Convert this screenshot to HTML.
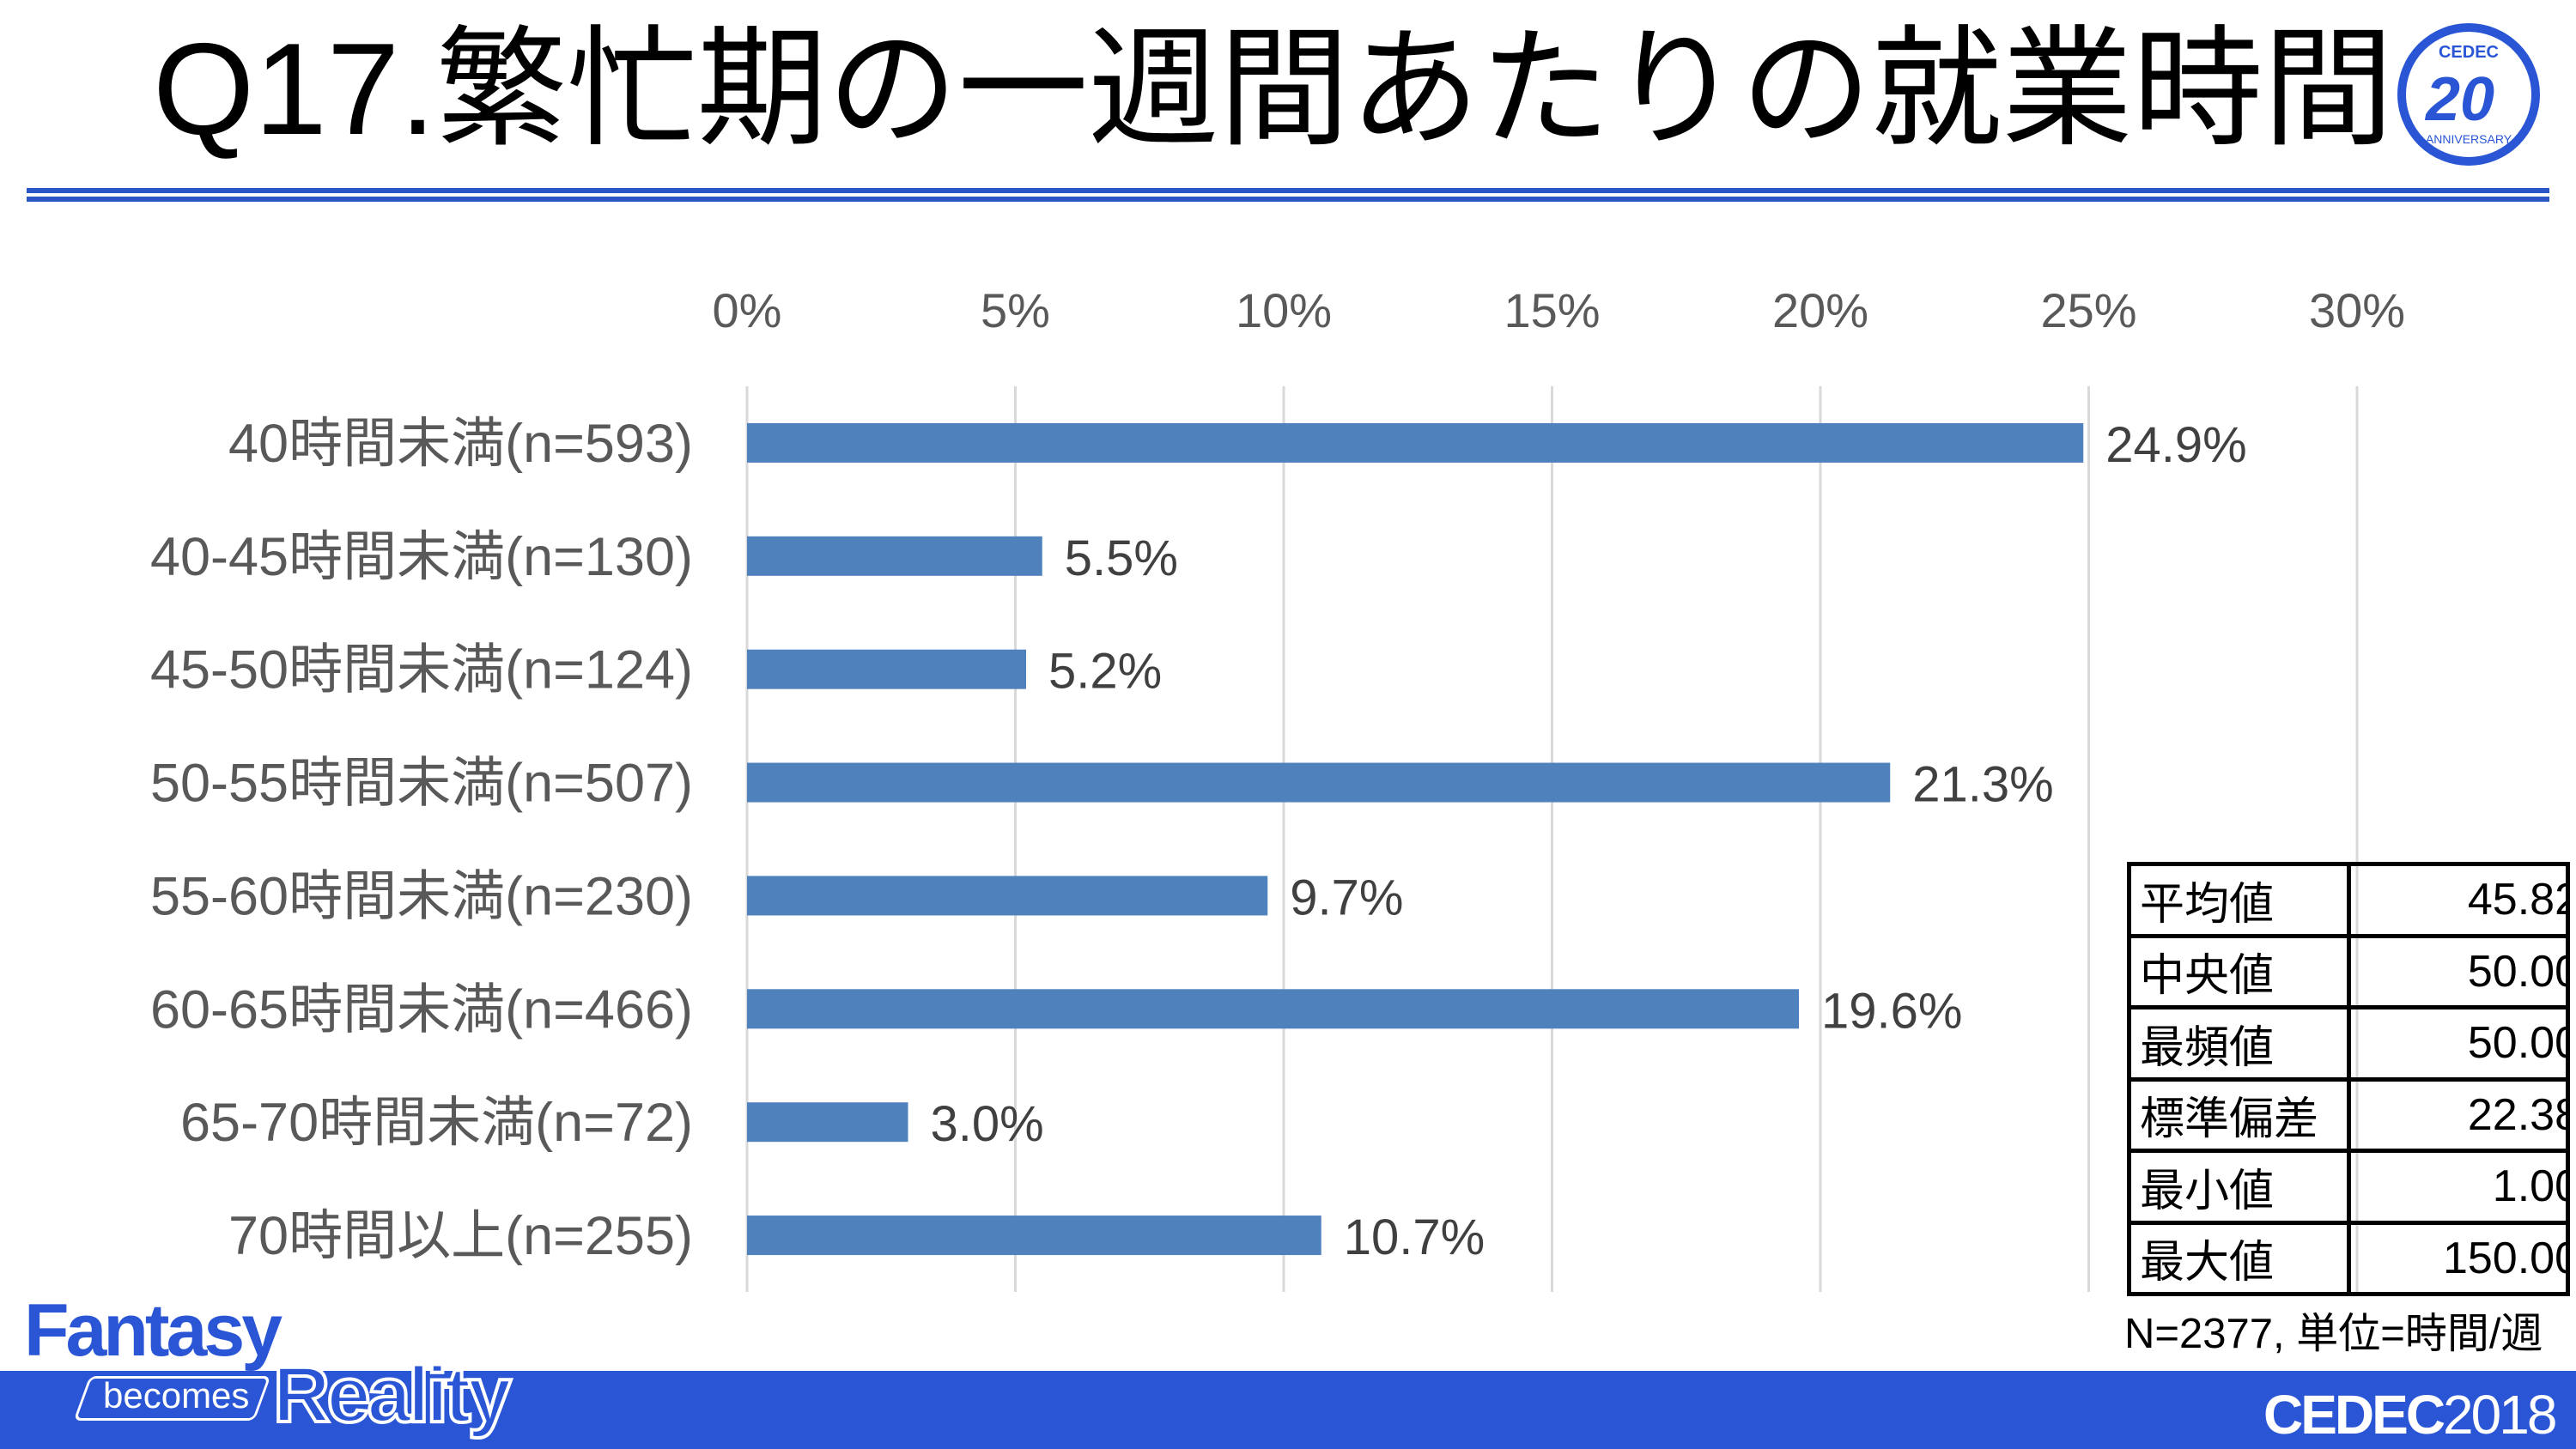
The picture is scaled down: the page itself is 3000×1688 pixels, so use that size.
<!DOCTYPE html>
<html><head><meta charset="utf-8">
<style>
html,body{margin:0;padding:0;background:#fff;}
body{width:3000px;height:1688px;position:relative;overflow:hidden;font-family:"Liberation Sans","Noto Sans CJK JP",sans-serif;}
.abs{position:absolute;}
td.k{border:5px solid #000;padding:0 10px;}
td.v{border:5px solid #000;padding:0;}
td.v div{overflow:hidden;text-align:right;white-space:nowrap;}
td.v span{display:inline-block;margin-right:-16px;}
</style></head>
<body>
<div class="abs" style="left:178px;top:14px;font-size:152px;line-height:180px;color:#000;white-space:nowrap;letter-spacing:0px;">Q17.繁忙期の一週間あたりの就業時間</div>
<svg class="abs" style="left:2785px;top:22px" width="180" height="175" viewBox="0 0 180 175">
<circle cx="90" cy="88" r="78" fill="none" stroke="#2a56d6" stroke-width="10"/>
<text x="90" y="45" text-anchor="middle" font-size="20" font-weight="bold" fill="#2a56d6" font-family="Liberation Sans">CEDEC</text>
<text x="80" y="118" text-anchor="middle" font-size="72" font-weight="bold" fill="#2a56d6" font-family="Liberation Sans" font-style="italic">20</text>
<text x="90" y="145" text-anchor="middle" font-size="14" fill="#2a56d6" font-family="Liberation Sans">ANNIVERSARY</text>
</svg>
<div class="abs" style="left:31px;top:219px;width:2938px;height:6px;background:#2a56c6;"></div>
<div class="abs" style="left:31px;top:229px;width:2938px;height:6px;background:#2a56c6;"></div>

<svg id="chart" class="abs" style="left:0;top:0" width="3000" height="1600"></svg>

<table class="abs" style="left:2477px;top:1004px;width:511px;height:506px;border-collapse:collapse;font-family:'Liberation Sans','Noto Sans CJK JP',sans-serif;font-size:52px;color:#000;table-layout:fixed;">
<colgroup><col style="width:256px"><col style="width:255px"></colgroup>
<tbody>
<tr><td class="k">平均値</td><td class="v"><div><span>45.82</span></div></td></tr>
<tr><td class="k">中央値</td><td class="v"><div><span>50.00</span></div></td></tr>
<tr><td class="k">最頻値</td><td class="v"><div><span>50.00</span></div></td></tr>
<tr><td class="k">標準偏差</td><td class="v"><div><span>22.38</span></div></td></tr>
<tr><td class="k">最小値</td><td class="v"><div><span>1.00</span></div></td></tr>
<tr><td class="k">最大値</td><td class="v"><div><span>150.00</span></div></td></tr>
</tbody></table>
<div class="abs" style="left:2474px;top:1524px;font-size:49px;line-height:60px;color:#000;white-space:nowrap;">N=2377, 単位=時間/週</div>

<div class="abs" style="left:0;top:1597px;width:3000px;height:91px;background:#2a56d6;"></div>
<div class="abs" style="left:28px;top:1500px;font-size:86px;line-height:100px;color:#2a56d6;font-weight:bold;letter-spacing:-4px;">Fantasy</div>
<div class="abs" style="left:95px;top:1603px;width:205px;height:46px;border:3px solid #fff;border-radius:8px;transform:skewX(-20deg);"></div>
<div class="abs" style="left:120px;top:1598px;font-size:42px;line-height:56px;color:#fff;">becomes</div>
<div class="abs" style="left:318px;top:1570px;font-size:92px;line-height:110px;color:#2a56d6;-webkit-text-stroke:4px #fff;font-weight:bold;letter-spacing:-4px;">Reality</div>
<div class="abs" style="left:2636px;top:1610px;font-size:64px;line-height:76px;color:#fff;font-weight:bold;white-space:nowrap;letter-spacing:-3px;">CEDEC<span style="font-weight:normal">2018</span></div>

<script>
const categories = ["40時間未満(n=593)","40-45時間未満(n=130)","45-50時間未満(n=124)","50-55時間未満(n=507)","55-60時間未満(n=230)","60-65時間未満(n=466)","65-70時間未満(n=72)","70時間以上(n=255)"];
const values = [24.9, 5.5, 5.2, 21.3, 9.7, 19.6, 3.0, 10.7];
const valueLabels = ["24.9%","5.5%","5.2%","21.3%","9.7%","19.6%","3.0%","10.7%"];
const ticks = [0, 5, 10, 15, 20, 25, 30];
const tickLabels = ["0%","5%","10%","15%","20%","25%","30%"];

const svg = document.getElementById('chart');
const NS = 'http://www.w3.org/2000/svg';
const x0 = 870, x1 = 2745, xMax = 30;
const yTop = 450, yBot = 1505;
const band = (yBot - yTop) / categories.length;
const barH = 46;
function xScale(v){ return x0 + (v / xMax) * (x1 - x0); }
function yCenter(i){ return yTop + band * (i + 0.5); }
function mk(tag, attrs){ const e = document.createElementNS(NS, tag); for (const k in attrs) e.setAttribute(k, attrs[k]); return e; }

ticks.forEach((t, i) => {
  const gx = xScale(t);
  const line = mk('line', {x1: gx, x2: gx, y1: yTop, y2: yBot, stroke: '#d9d9d9', 'stroke-width': 3});
  
  
  svg.appendChild(line);
  const tl = mk('text', {x: gx, y: 381, 'text-anchor': 'middle', 'font-size': 56, fill: '#595959', 'font-family': 'Liberation Sans, sans-serif'});
  tl.textContent = tickLabels[i];
  
  
  svg.appendChild(tl);
});

categories.forEach((c, i) => {
  const cy = yCenter(i);
  const rect = mk('rect', {x: x0, y: cy - barH / 2, width: xScale(values[i]) - x0, height: barH, fill: '#4f81bd'});
  
  
  svg.appendChild(rect);
  const lab = mk('text', {x: 807, y: cy + 22, 'text-anchor': 'end', 'font-size': 63, fill: '#595959', 'font-family': 'Liberation Sans, Noto Sans CJK JP, sans-serif'});
  lab.textContent = c;
  
  
  svg.appendChild(lab);
  const vl = mk('text', {x: xScale(values[i]) + 26, y: cy + 22, 'font-size': 58, fill: '#404040', 'font-family': 'Liberation Sans, sans-serif'});
  vl.textContent = valueLabels[i];
  
  
  svg.appendChild(vl);
});
</script>
</body></html>
